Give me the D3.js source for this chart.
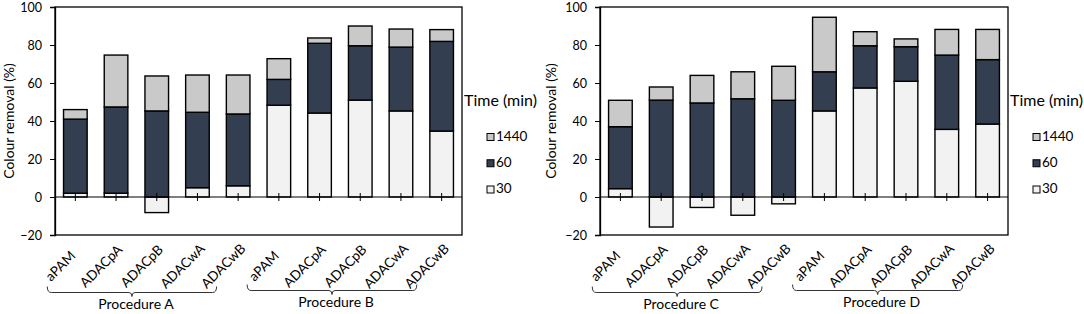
<!DOCTYPE html>
<html>
<head>
<meta charset="utf-8">
<script src="https://cdn.jsdelivr.net/npm/d3@7"></script>
<style>
  body { margin: 0; background: #fff; }
  svg { display: block; font-family: Lato, "Open Sans", sans-serif; }
</style>
</head>
<body>
<div id="chart"></div>
<script>
// categories along x (same for both panels)
const categories = ["aPAM", "ADACpA", "ADACpB", "ADACwA", "ADACwB",
                    "aPAM", "ADACpA", "ADACpB", "ADACwA", "ADACwB"];
const timeKeys = ["30", "60", "1440"];
const yTicks = [-20, 0, 20, 40, 60, 80, 100];

// left panel, increments per time point (%)
const left30 = [2, 2, -8.2, 4.9, 5.9, 48.3, 44.2, 51, 45.3, 34.7];
const left60 = [39, 45.4, 45.3, 39.7, 37.8, 13.6, 36.7, 28.6, 33.6, 47.2];
const left1440 = [5, 27.3, 18.4, 19.6, 20.5, 10.9, 2.8, 10.4, 9.5, 6.2];
const leftGroups = ["Procedure A", "Procedure B"];

// right panel
const right30 = [4.4, -15.8, -5.5, -9.6, -3.6, 45.3, 57.4, 60.9, 35.6, 38.4];
const right60 = [32.6, 51, 49.5, 51.7, 50.9, 20.6, 22.2, 18.2, 39.1, 33.9];
const right1440 = [13.9, 6.9, 14.5, 14.2, 17.9, 28.7, 7.4, 4.1, 13.5, 15.9];
const rightGroups = ["Procedure C", "Procedure D"];

const colors = { "30": "#f2f2f2", "60": "#333f50", "1440": "#c9c9c9" };

const svg = d3.select("#chart").append("svg")
  .attr("width", 1084)
  .attr("height", 314);

const y = d3.scaleLinear().domain([-20, 100]).range([235, 7]);

const drawPanel = (opts) => {
  const x = d3.scaleBand()
    .domain(d3.range(categories.length))
    .range([opts.x0, opts.x1])
    .paddingInner(0.42)
    .paddingOuter(0.21);
  const step = x.step();

  const rows = categories.map((c, i) => ({
    id: i, name: c,
    "30": opts.s30[i], "60": opts.s60[i], "1440": opts.s1440[i]
  }));
  const stacked = d3.stack().keys(timeKeys)
    .offset(d3.stackOffsetDiverging)(rows);

  const g = svg.append("g");

  // frame
  g.append("rect")
    .attr("x", opts.x0).attr("y", y(100))
    .attr("width", opts.x1 - opts.x0).attr("height", y(-20) - y(100))
    .attr("fill", "none").attr("stroke", "#000").attr("stroke-width", 1.3);

  // bars
  stacked.forEach((layer) => {
    g.append("g").selectAll("rect").data(layer).enter().append("rect")
      .attr("x", (d) => x(d.data.id))
      .attr("width", x.bandwidth())
      .attr("y", (d) => y(Math.max(d[0], d[1])))
      .attr("height", (d) => Math.abs(y(d[0]) - y(d[1])))
      .attr("fill", colors[layer.key])
      .attr("stroke", "#000")
      .attr("stroke-width", 1.4);
  });

  // zero line with crossing ticks
  g.append("line")
    .attr("x1", opts.x0).attr("x2", opts.x1)
    .attr("y1", y(0)).attr("y2", y(0))
    .attr("stroke", "#000").attr("stroke-width", 1.2);
  g.append("g").selectAll("line").data(d3.range(categories.length)).enter().append("line")
    .attr("x1", (d) => x(d) + x.bandwidth() / 2)
    .attr("x2", (d) => x(d) + x.bandwidth() / 2)
    .attr("y1", y(0) - 4).attr("y2", y(0) + 4)
    .attr("stroke", "#000").attr("stroke-width", 1);

  // y axis
  const yAxis = g.append("g")
    .attr("transform", `translate(${opts.x0},0)`)
    .call(d3.axisLeft(y).tickValues(yTicks).tickSize(5).tickPadding(8));
  yAxis.select(".domain").attr("stroke-width", 1.3);
  yAxis.selectAll("text").attr("font-size", 12.5).attr("fill", "#000")
    .attr("font-family", "Lato, sans-serif");

  g.append("text")
    .attr("transform", `translate(${opts.labelX},${(y(100) + y(-20)) / 2}) rotate(-90)`)
    .attr("text-anchor", "middle")
    .attr("font-size", 14)
    .text("Colour removal (%)");

  // category labels, rotated
  g.append("g").selectAll("text").data(rows).enter().append("text")
    .attr("transform", (d) => `translate(${x(d.id) + x.bandwidth() / 2 - 15},266) rotate(-45)`)
    .attr("text-anchor", "middle")
    .attr("dy", "0.35em")
    .attr("font-size", 13.5)
    .text((d) => d.name);

  // group brackets
  const spans = [[-0.19, 3.97], [4.72, 8.89]];
  const lineY = [292.5, 290.5];
  opts.groups.forEach((name, i) => {
    const xs = opts.x0 + spans[i][0] * step;
    const xe = opts.x0 + spans[i][1] * step;
    const mid = (xs + xe) / 2;
    const yl = lineY[i];
    g.append("path")
      .attr("d", `M${xs},${yl - 6} Q${xs},${yl} ${xs + 4},${yl} H${mid - 3} Q${mid},${yl} ${mid},${yl + 4} Q${mid},${yl} ${mid + 3},${yl} H${xe - 4} Q${xe},${yl} ${xe},${yl - 6}`)
      .attr("fill", "none").attr("stroke", "#333").attr("stroke-width", 1);
    g.append("text")
      .attr("x", mid + 4).attr("y", yl + 16.5)
      .attr("text-anchor", "middle")
      .attr("font-size", 14)
      .text(name);
  });

  // legend
  const lg = g.append("g").attr("transform", `translate(${opts.x1},0)`);
  lg.append("text").attr("x", 2).attr("y", 105.5).attr("font-size", 16).text("Time (min)");
  const legendKeys = ["1440", "60", "30"];
  const legendY = d3.scalePoint().domain(legendKeys).range([133.5, 186]);
  lg.selectAll("rect").data(legendKeys).enter().append("rect")
    .attr("x", 25).attr("y", (d) => legendY(d))
    .attr("width", 7).attr("height", 7)
    .attr("fill", (d) => colors[d]).attr("stroke", "#000").attr("stroke-width", 1);
  lg.selectAll("text.lab").data(legendKeys).enter().append("text")
    .attr("class", "lab")
    .attr("x", 34).attr("y", (d) => legendY(d) + 7)
    .attr("font-size", 13.5)
    .text((d) => d);
};

drawPanel({ x0: 55, x1: 462, labelX: 14, s30: left30, s60: left60, s1440: left1440, groups: leftGroups });
drawPanel({ x0: 600, x1: 1008, labelX: 556, s30: right30, s60: right60, s1440: right1440, groups: rightGroups });
</script>
</body>
</html>
